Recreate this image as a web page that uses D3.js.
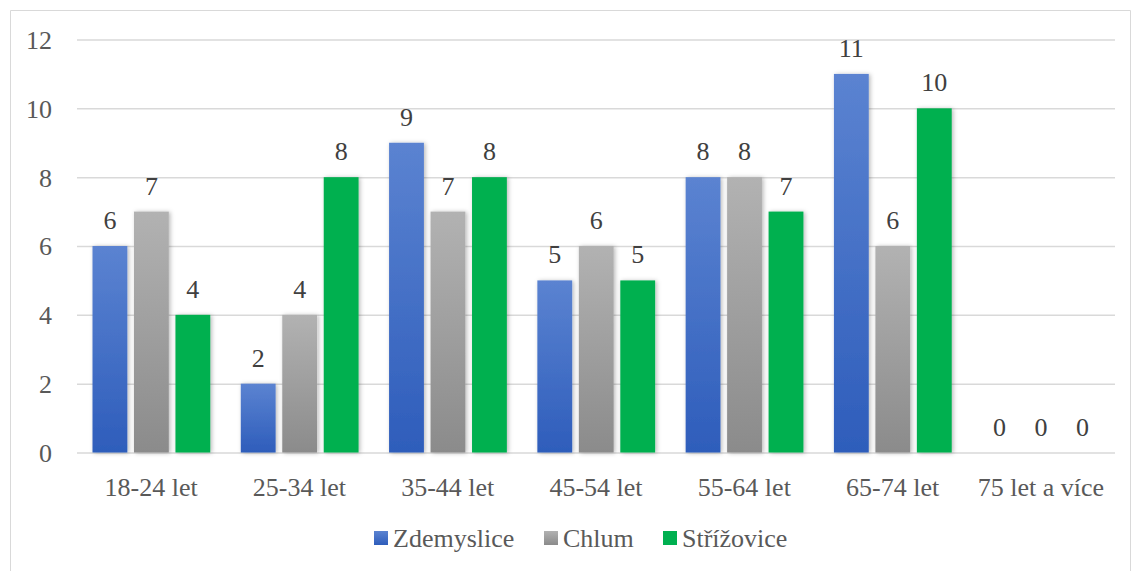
<!DOCTYPE html>
<html>
<head>
<meta charset="utf-8">
<script src="https://cdn.jsdelivr.net/npm/d3@7"></script>
<style>
  svg text { font-family: "Liberation Serif", "Times New Roman", Tinos, serif !important; }
</style>
</head>
<body style="margin:0; background:#fff">
<svg id="chart" width="1134" height="571" font-family="Liberation Serif, serif"></svg>
<script>
// Age groups and respondent counts per municipality
const categories = ["18-24 let", "25-34 let", "35-44 let", "45-54 let", "55-64 let", "65-74 let", "75 let a více"];
const seriesNames = ["Zdemyslice", "Chlum", "Střížovice"];
const zdemyslice = [6, 2, 9, 5, 8, 11, 0];
const chlum = [7, 4, 7, 6, 8, 6, 0];
const strizovice = [4, 8, 8, 5, 7, 10, 0];
const yTicks = [0, 2, 4, 6, 8, 10, 12];

const seriesValues = [zdemyslice, chlum, strizovice];

const FONT = "Liberation Serif, serif";
const svg = d3.select("#chart");
const plot = { left: 77, right: 1115, top: 39.5, bottom: 452.5 };

// Outer chart frame
svg.append("path")
  .attr("d", "M10.5,571 V10.5 H1130.5 V571")
  .attr("fill", "none")
  .attr("stroke", "#d9d9d9")
  .attr("stroke-width", 1);

const defs = svg.append("defs");
const blueGrad = defs.append("linearGradient").attr("id", "gBlue").attr("x1", 0).attr("y1", 0).attr("x2", 0).attr("y2", 1);
blueGrad.append("stop").attr("offset", "0%").attr("stop-color", "#5b83d1");
blueGrad.append("stop").attr("offset", "100%").attr("stop-color", "#2e5dbb");
const grayGrad = defs.append("linearGradient").attr("id", "gGray").attr("x1", 0).attr("y1", 0).attr("x2", 0).attr("y2", 1);
grayGrad.append("stop").attr("offset", "0%").attr("stop-color", "#b2b2b2");
grayGrad.append("stop").attr("offset", "100%").attr("stop-color", "#8b8b8b");

const shadow = defs.append("filter").attr("id", "shadow").attr("x", "-30%").attr("y", "-10%").attr("width", "160%").attr("height", "120%");
shadow.append("feDropShadow").attr("dx", 1.5).attr("dy", 0.5).attr("stdDeviation", 2).attr("flood-color", "#000").attr("flood-opacity", 0.28);

const fills = ["url(#gBlue)", "url(#gGray)", "#00b050"];

const x0 = d3.scaleBand()
  .domain(categories)
  .range([plot.left, plot.right])
  .paddingInner(0)
  .paddingOuter(0);

const x1 = d3.scaleBand()
  .domain(seriesNames)
  .range([15.5, x0.bandwidth() - 15])
  .paddingInner(0.16);

const y = d3.scaleLinear()
  .domain([0, 12])
  .range([plot.bottom, plot.top]);

// Horizontal gridlines and value axis
const yAxis = d3.axisLeft(y).tickValues(yTicks).tickSize(-(plot.right - plot.left)).tickFormat(d3.format("d"));
const gy = svg.append("g")
  .attr("transform", `translate(${plot.left},0)`)
  .call(yAxis)
  .attr("font-family", FONT)
  .attr("font-size", 26);
gy.select(".domain").remove();
gy.selectAll(".tick line").attr("stroke", "#d9d9d9").attr("stroke-width", 1.5);
gy.selectAll(".tick text")
  .attr("x", -25)
  .attr("dy", "0.34em")
  .attr("fill", "#595959")
  .attr("font-family", FONT)
  .attr("font-size", 26);

// Bars
const groups = svg.append("g").selectAll("g")
  .data(categories)
  .join("g")
  .attr("transform", d => `translate(${x0(d)},0)`);

const cells = (d, i) => seriesNames.map((s, j) => ({ s, j, v: seriesValues[j][i] }));

groups.selectAll("rect")
  .data(cells)
  .join("rect")
  .filter(d => d.v > 0)
  .attr("x", d => x1(d.s))
  .attr("width", x1.bandwidth())
  .attr("y", d => y(d.v))
  .attr("height", d => y(0) - y(d.v))
  .attr("fill", d => fills[d.j])
  .attr("filter", "url(#shadow)");

// Value labels
groups.selectAll("text.val")
  .data(cells)
  .join("text")
  .attr("class", "val")
  .attr("x", d => x1(d.s) + x1.bandwidth() / 2)
  .attr("y", d => y(d.v) - 17)
  .attr("text-anchor", "middle")
  .attr("fill", "#404040")
  .attr("font-family", FONT)
  .attr("font-size", 26)
  .text(d => d.v);

// Category axis
const xAxis = d3.axisBottom(x0).tickSize(0).tickPadding(0);
const gx = svg.append("g")
  .attr("transform", `translate(0,${y(0)})`)
  .call(xAxis)
  .attr("font-family", FONT)
  .attr("font-size", 26);
gx.select(".domain").remove();
gx.selectAll(".tick text")
  .attr("y", 43)
  .attr("dy", 0)
  .attr("fill", "#595959")
  .attr("font-family", FONT)
  .attr("font-size", 26);

// Legend
const legendItems = [
  { name: seriesNames[0], fill: fills[0], x: 374 },
  { name: seriesNames[1], fill: fills[1], x: 544 },
  { name: seriesNames[2], fill: fills[2], x: 663 }
];
const legend = svg.append("g");
legendItems.forEach(it => {
  legend.append("rect")
    .attr("x", it.x).attr("y", 531)
    .attr("width", 14).attr("height", 14)
    .attr("fill", it.fill);
  legend.append("text")
    .attr("x", it.x + 19).attr("y", 547)
    .attr("fill", "#595959")
    .attr("font-family", FONT)
    .attr("font-size", 26)
    .text(it.name);
});
</script>
</body>
</html>
